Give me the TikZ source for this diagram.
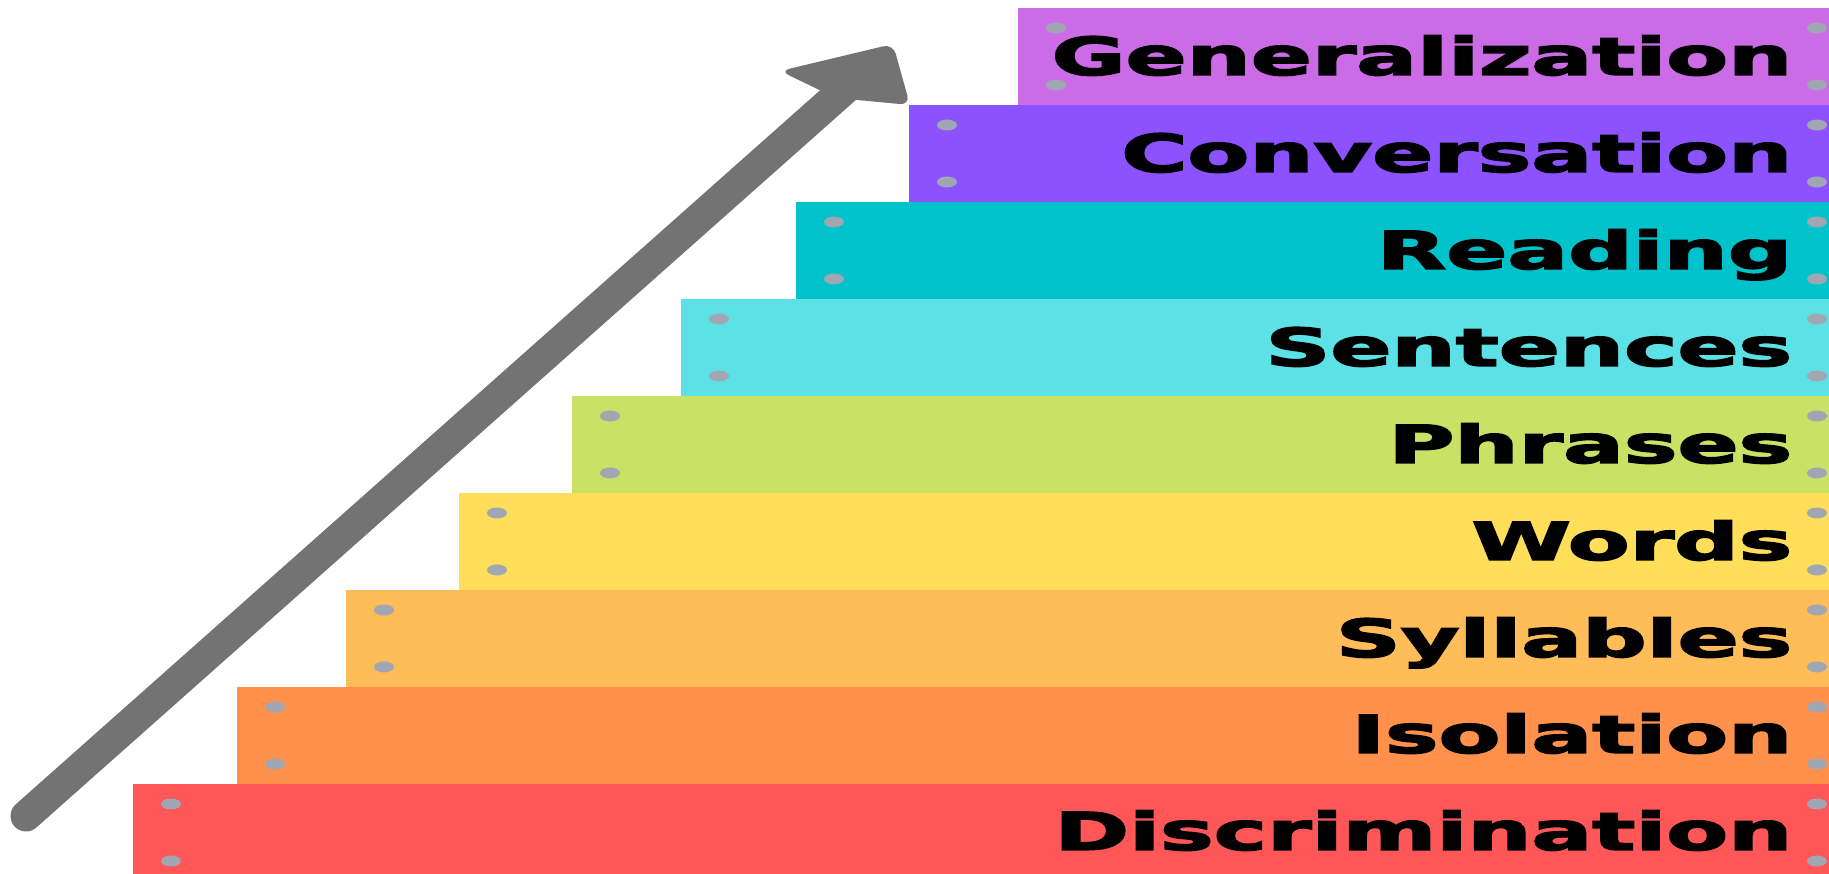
\documentclass[tikz,border=0pt]{standalone}
\usepackage{graphicx}
\usepackage{fontspec}
\setmainfont{DejaVu Sans}
\newfontfamily\heavyfont[BoldFeatures={FakeBold=2.5}]{DejaVu Sans}
\usepackage{tikz}

\definecolor{discred}{HTML}{FF5757}
\definecolor{isoorange}{HTML}{FF914D}
\definecolor{sylorange}{HTML}{FFBD59}
\definecolor{wordyellow}{HTML}{FFDE59}
\definecolor{phrlime}{HTML}{C9E265}
\definecolor{sentcyan}{HTML}{5CE1E6}
\definecolor{readteal}{HTML}{00C2CB}
\definecolor{convpurple}{HTML}{8C52FF}
\definecolor{genviolet}{HTML}{CB6CE6}
\definecolor{arrowgray}{HTML}{737373}
\definecolor{boltgray}{HTML}{A0A6B2}

\newcommand{\stretched}[1]{\scalebox{1.72}[1]{#1}}
\newcommand{\bolts}[2]{%
  \fill[boltgray] (#1+38,#2+20) ellipse (0.1cm and 0.055cm);
  \fill[boltgray] (#1+38,#2+77) ellipse (0.1cm and 0.055cm);
  \fill[boltgray] (1817,#2+20) ellipse (0.1cm and 0.055cm);
  \fill[boltgray] (1817,#2+77) ellipse (0.1cm and 0.055cm);}

\tikzset{steplabel/.style={anchor=base east, inner sep=0pt,
  font=\heavyfont\bfseries\fontsize{14.9}{17}\selectfont}}

\begin{document}
\begin{tikzpicture}[x=0.01cm,y=-0.01cm]
            \useasboundingbox (0,0) rectangle (1829,874);
            \clip (0,0) rectangle (1829,874);
            \fill[discred] (133,784) rectangle (1829,881);
            \fill[isoorange] (237,687) rectangle (1829,784);
            \fill[sylorange] (346,590) rectangle (1829,687);
            \fill[wordyellow] (459,493) rectangle (1829,590);
            \fill[phrlime] (572,396) rectangle (1829,493);
            \fill[sentcyan] (681,299) rectangle (1829,396);
            \fill[readteal] (796,202) rectangle (1829,299);
            \fill[convpurple] (909,105) rectangle (1829,202);
            \fill[genviolet] (1018,8) rectangle (1829,105);
            \bolts{133}{784}
            \bolts{237}{687}
            \bolts{346}{590}
            \bolts{459}{493}
            \bolts{572}{396}
            \bolts{681}{299}
            \bolts{796}{202}
            \bolts{909}{105}
            \bolts{1018}{8}
            \node[steplabel] at (1793,850) (disc) {\stretched{Discrimination}};
            \node[steplabel] at (1793,753) (iso) {\stretched{Isolation}};
            \node[steplabel] at (1793,657) (syl) {\stretched{Syllables}};
            \node[steplabel] at (1793,560) (words) {\stretched{Words}};
            \node[steplabel] at (1793,463) (phr) {\stretched{Phrases}};
            \node[steplabel] at (1793,366) (sent) {\stretched{Sentences}};
            \node[steplabel] at (1793,269) (read) {\stretched{Reading}};
            \node[steplabel] at (1793,172) (conv) {\stretched{Conversation}};
            \node[steplabel] at (1793,75) (gen) {\stretched{Generalization}};
            \coordinate (tail) at (26,816);
            \coordinate (head) at (846,88);
            \draw[arrowgray, line width=0.31cm, line cap=round] (tail) -- (head);
            \fill[arrowgray, rounded corners=0.1cm] (780,71) -- (836,98) -- (910,105) -- (893,44) -- cycle;
        \end{tikzpicture}
\end{document}
